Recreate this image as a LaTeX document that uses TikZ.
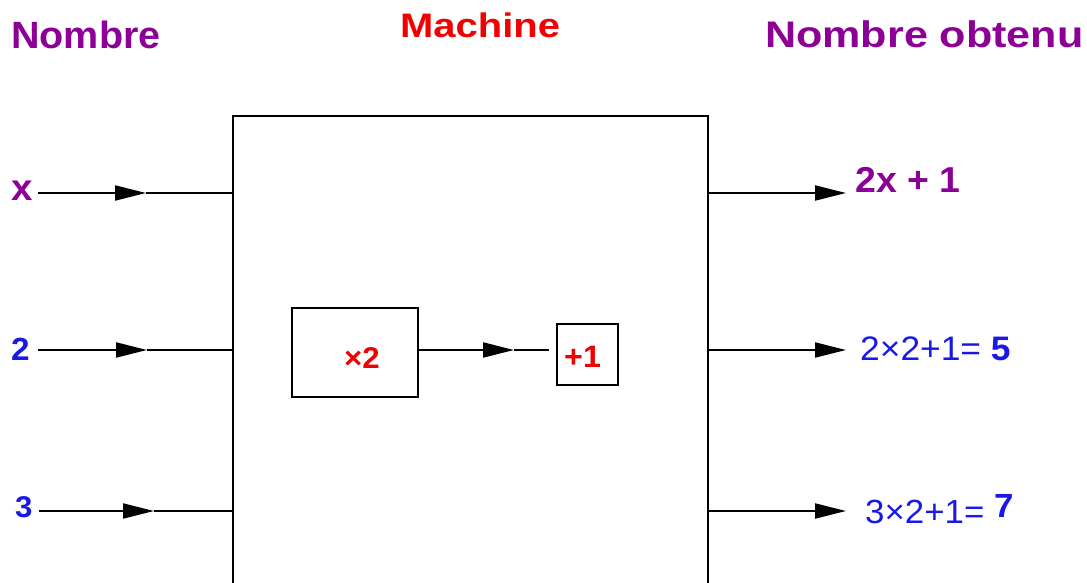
\documentclass[tikz,border=0pt]{standalone}
\usepackage{fontspec}
\setmainfont{Liberation Sans}[FakeStretch=1.04]
\usetikzlibrary{arrows.meta}
\definecolor{mpurple}{RGB}{140,0,150}
\definecolor{mblue}{RGB}{25,25,230}
\definecolor{mred}{RGB}{240,0,0}
\newcommand{\fs}[1]{\fontsize{#1}{#1}\selectfont}
\begin{document}
\begin{tikzpicture}[x=1pt,y=-1pt,
  lbl/.style={inner sep=0pt, anchor=base west},
  ln/.style={line width=1.9pt, black},
  arr/.style={ln, -{Triangle[length=31pt,width=15pt]}},
  boxs/.style={draw, line width=1.9pt, inner sep=0pt}]
\useasboundingbox (0,0) rectangle (1087,583);
% headers
\node[lbl, text=mpurple] (h1) at (11,49) {\fs{38}\bfseries\scalebox{1.0}[1]{Nombre}};
\node[lbl, text=mred] (h2) at (400,38) {\fs{34}\bfseries\scalebox{1.13}[1]{Machine}};
\node[lbl, text=mpurple] (h3) at (765,48) {\fs{37}\bfseries\scalebox{1.12}[1]{Nombre obtenu}};
% machine box
\coordinate (bl) at (233,600);
\coordinate (tl) at (233,116);
\coordinate (tr) at (708,116);
\coordinate (br) at (708,600);
\draw[ln] (bl) -- (tl) -- (tr) -- (br);
% inputs
\node[lbl, text=mpurple] (ix) at (11,200) {\fs{37}\bfseries x};
\node[lbl, text=mblue] (i2) at (11,360) {\fs{32}\bfseries 2};
\node[lbl, text=mblue] (i3) at (15,517) {\fs{30}\bfseries 3};
\coordinate (ax0) at (38,193); \coordinate (ax1) at (146,193); \coordinate (ax2) at (233,193);
\coordinate (a20) at (38,350); \coordinate (a21) at (147,350); \coordinate (a22) at (233,350);
\coordinate (a30) at (39,511); \coordinate (a31) at (154,511); \coordinate (a32) at (233,511);
\draw[arr] (ax0) -- (ax1); \draw[ln] (ax1) -- (ax2);
\draw[arr] (a20) -- (a21); \draw[ln] (a21) -- (a22);
\draw[arr] (a30) -- (a31); \draw[ln] (a31) -- (a32);
% inner boxes
\node[boxs, minimum width=126pt, minimum height=89pt] (m2) at (355,352.5) {};
\node[boxs, minimum width=61pt, minimum height=61pt] (p1) at (587.5,354.5) {};
\node[lbl, text=mred] (m2t) at (344,368) {\fs{30}\bfseries ×2};
\node[lbl, text=mred] (p1t) at (564,367) {\fs{31}\bfseries +1};
\coordinate (c0) at (418,350); \coordinate (c1) at (514,350); \coordinate (c2) at (549,350);
\draw[arr] (c0) -- (c1); \draw[ln] (c1) -- (c2);
% outputs
\coordinate (o10) at (708,193); \coordinate (o11) at (846,193);
\coordinate (o20) at (708,350); \coordinate (o21) at (846,350);
\coordinate (o30) at (708,511); \coordinate (o31) at (846,511);
\draw[arr] (o10) -- (o11);
\draw[arr] (o20) -- (o21);
\draw[arr] (o30) -- (o31);
\node[lbl, text=mpurple] (r1) at (855,193) {\fs{36}\bfseries 2x + 1};
\node[lbl, text=mblue] (r2) at (860,360) {\fs{34}2×2+1= \textbf{5}};
\node[lbl, text=mblue] (r3) at (865,523) {\fs{33.5}3×2+1= \raisebox{6pt}{\textbf{7}}};
\end{tikzpicture}
\end{document}
